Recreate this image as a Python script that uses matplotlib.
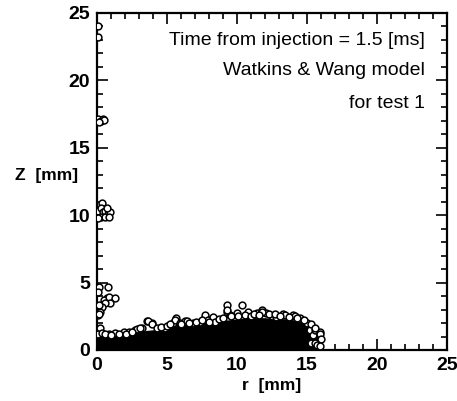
import numpy as np
import matplotlib.pyplot as plt
from matplotlib.ticker import MultipleLocator

plt.rcParams['font.family'] = ['Liberation Sans', 'DejaVu Sans']

# upper edge of the dense droplet cloud near the bottom (r, z in mm)
band_r = [0, 0.5, 1, 1.5, 2, 2.5, 3, 3.5, 4, 4.5, 5, 5.5, 6, 6.5, 7, 7.5, 8,
          8.5, 9, 9.5, 10, 10.5, 11, 11.5, 12, 12.5, 13, 13.5, 14, 14.5, 15,
          15.3, 15.6, 15.8, 16.0, 16.2]
band_z = [1.1, 1.1, 1.1, 1.15, 1.2, 1.25, 1.35, 1.45, 1.5, 1.6, 1.7, 1.8,
          1.85, 1.9, 1.95, 2.0, 2.05, 2.1, 2.2, 2.25, 2.3, 2.35, 2.4, 2.4,
          2.4, 2.35, 2.35, 2.3, 2.25, 2.1, 1.8, 1.5, 1.2, 0.9, 0.5, 0.0]

# individual droplets that stand out of the cloud
drop_r = [0.08, 0.08,
          0.1, 0.25, 0.4, 0.5, 0.15,
          0.33, 0.1, 0.25, 0.45, 0.6, 0.75, 0.9, 0.3, 0.55, 0.85, 0.1, 0.7,
          0.12, 0.79, 0.05, 0.71, 0.48, 0.83, 1.31, 0.95, 0.6, 0.36, 0.24,
          0.12, 0.05, 0.15, 0.2,
          0.05, 0.36, 0.83, 1.31, 1.9, 2.3, 2.74, 3.2, 3.57, 3.93, 2.83, 3.05,
          3.67, 3.95, 4.86, 5.45, 5.64, 5.57, 5.93, 6.29, 6.4, 6.88, 7.36, 7.7,
          7.95, 8.3, 8.43, 9.26, 9.26, 9.5, 9.98, 10.33, 10.8, 11.4, 11.76,
          12.1, 12.5, 12.8, 13.3, 13.43, 14.0, 14.14, 14.5, 15.0, 15.2, 15.45,
          15.6, 15.9, 15.3, 15.6, 15.7, 9.26, 11.76,
          0.6, 1.0, 1.6, 2.1, 2.5, 4.3, 4.6, 5.0, 5.2, 6.0, 6.6, 7.1, 7.5, 8.0,
          8.7, 9.0, 9.6, 10.1, 10.6, 11.0, 11.2, 11.6, 12.3, 12.7, 13.1, 13.7,
          14.3, 14.8, 15.3, 15.6, 15.9, 16.0, 15.9]
drop_z = [24.0, 23.2,
          17.1, 17.0, 17.1, 17.05, 16.9,
          10.9, 10.3, 10.5, 10.2, 10.3, 10.1, 10.2, 9.9, 9.9, 9.85, 9.8, 10.5,
          4.7, 4.66, 4.3, 3.84, 3.7, 3.96, 3.84, 3.47, 3.47, 3.22, 2.85,
          3.35, 2.6, 2.7, 1.6,
          1.2, 1.24, 1.17, 1.24, 1.31, 1.35, 1.49, 1.61, 2.18, 1.98, 1.54, 1.66,
          2.18, 1.9, 1.61, 2.03, 2.36, 2.23, 1.98, 2.18, 2.18, 1.98, 2.1, 2.6,
          2.23, 2.43, 2.1, 3.35, 2.85, 2.6, 2.72, 3.35, 2.8, 2.72, 2.93,
          2.72, 2.53, 2.48, 2.65, 2.6, 2.6, 2.53, 2.35, 1.98, 1.5, 1.1,
          1.5, 1.36, 0.5, 0.5, 0.37, 2.97, 2.85,
          1.15, 1.1, 1.2, 1.15, 1.3, 1.6, 1.7, 1.8, 1.9, 1.95, 2.0, 2.05, 2.2,
          2.1, 2.3, 2.4, 2.5, 2.55, 2.6, 2.55, 2.7, 2.6, 2.65, 2.7, 2.55, 2.45,
          2.4, 2.2, 1.9, 1.6, 1.2, 0.8, 0.3]

fig = plt.figure(figsize=(4.57, 4.01), dpi=100)
ax = fig.add_axes([0.2123, 0.1272, 0.7657, 0.8404])

ax.fill_between(band_r, 0, band_z, color='black', lw=0, zorder=2)
ax.scatter(drop_r, drop_z, s=24, facecolors='white', edgecolors='black',
           linewidths=1.1, zorder=3)

ax.set_xlim(0, 25)
ax.set_ylim(0, 25)
ax.xaxis.set_major_locator(MultipleLocator(5))
ax.xaxis.set_minor_locator(MultipleLocator(1))
ax.yaxis.set_major_locator(MultipleLocator(5))
ax.yaxis.set_minor_locator(MultipleLocator(1))
ax.tick_params(which='both', direction='in', top=True, right=True, width=1.2)
ax.tick_params(which='major', length=8, labelsize=14, pad=5)
ax.tick_params(which='minor', length=4)
for lab in ax.get_xticklabels() + ax.get_yticklabels():
    lab.set_fontweight('bold')
for sp in ax.spines.values():
    sp.set_linewidth(1.6)

ax.set_xlabel('r  [mm]', fontsize=12.5, fontweight='bold', labelpad=3)
fig.text(0.033, 0.563, 'Z  [mm]', fontsize=12.5, fontweight='bold', va='center')

txt = dict(fontsize=14, ha='right', va='center', transform=fig.transFigure)
fig.text(0.93, 0.90, 'Time from injection = 1.5 [ms]', **txt)
fig.text(0.93, 0.823, 'Watkins & Wang model', **txt)
fig.text(0.93, 0.743, 'for test 1', **txt)

fig.savefig('out.png', dpi=100)
